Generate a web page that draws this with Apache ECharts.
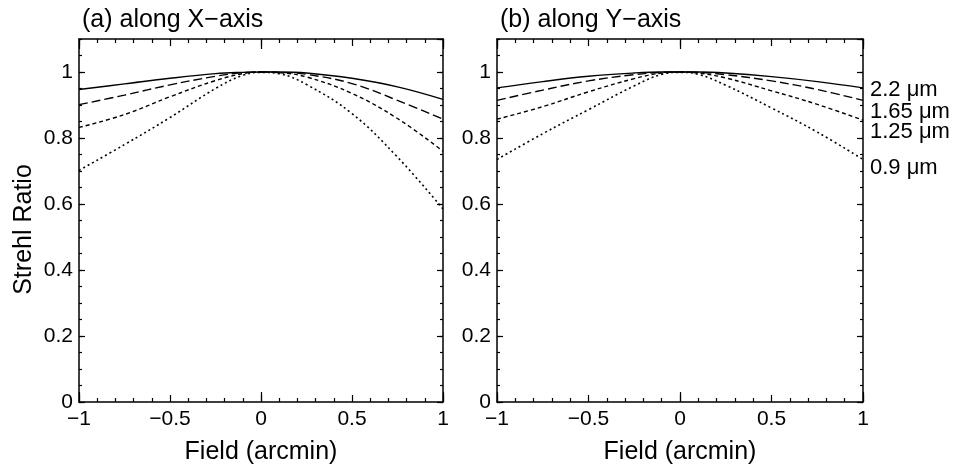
<!DOCTYPE html>
<html>
<head>
<meta charset="utf-8">
<script src="https://cdn.jsdelivr.net/npm/echarts@6/dist/echarts.min.js"></script>
<style>
  html, body, #main { width: 956px; height: 472px; margin: 0; background: #fff; }
</style>
</head>
<body>
<div id="main"></div>
<script>
// field positions (arcmin)
var fieldX = [-1, -0.75, -0.5, -0.25, -0.1, 0, 0.1, 0.25, 0.5, 0.75, 1];
var waveNames = ['2.2 μm', '1.65 μm', '1.25 μm', '0.9 μm'];

// (a) along X-axis
var a22  = [0.947, 0.964, 0.981, 0.995, 0.999, 1.000, 1.000, 0.997, 0.981, 0.955, 0.917];
var a165 = [0.901, 0.930, 0.961, 0.987, 0.998, 1.000, 0.999, 0.993, 0.965, 0.914, 0.857];
var a125 = [0.832, 0.871, 0.925, 0.974, 0.995, 1.000, 0.998, 0.985, 0.935, 0.859, 0.760];
var a09  = [0.702, 0.780, 0.862, 0.950, 0.990, 0.999, 0.995, 0.962, 0.874, 0.742, 0.585];

// (b) along Y-axis
var b22  = [0.952, 0.971, 0.987, 0.997, 1.000, 1.000, 1.000, 0.997, 0.986, 0.971, 0.952];
var b165 = [0.914, 0.945, 0.973, 0.992, 0.999, 1.000, 0.999, 0.992, 0.973, 0.947, 0.914];
var b125 = [0.857, 0.895, 0.940, 0.980, 0.997, 1.000, 0.997, 0.982, 0.943, 0.902, 0.854];
var b09  = [0.735, 0.813, 0.886, 0.958, 0.993, 0.999, 0.993, 0.960, 0.891, 0.818, 0.735];

var font = 'Liberation Sans';
var lineW = 1.5;
var dashes = ['solid', [9, 4], [4, 3], [2, 3]];
var widths = [1.4, 1.4, 1.4, 1.6];
var labelDy = [2, 12, 12, 8];

function fmtX(v) {
    return v < 0 ? '\u2212' + Math.abs(v) : String(v);
}

var xAxes = [], yAxes = [], series = [];

function addPanel(g, sets, withLabels) {
    var axLine = { show: true, onZero: false, lineStyle: { color: '#000', width: lineW } };
    var noLine = { show: false, onZero: false };
    var tickStyle = { color: '#000', width: 1.2 };
    ['bottom', 'top'].forEach(function (pos) {
        xAxes.push({
            gridIndex: g, type: 'value', min: -1, max: 1, interval: 0.5, position: pos,
            axisLine: axLine,
            axisTick: { inside: true, length: 7, lineStyle: tickStyle },
            minorTick: { show: true, splitNumber: 5, length: 4, lineStyle: tickStyle },
            splitLine: { show: false },
            axisLabel: {
                show: pos === 'bottom', formatter: fmtX, fontSize: 21, fontFamily: font,
                color: '#000', margin: 7
            },
            name: pos === 'bottom' ? 'Field (arcmin)' : '',
            nameLocation: 'middle', nameGap: 38,
            nameTextStyle: { fontSize: 25, fontFamily: font, color: '#000' }
        });
    });
    // longer tick at zero
    ['bottom', 'top'].forEach(function (pos) {
        xAxes.push({
            gridIndex: g, type: 'value', min: -1, max: 1, interval: 1, position: pos,
            axisLine: noLine,
            axisTick: { inside: true, length: 10, lineStyle: tickStyle },
            splitLine: { show: false }, axisLabel: { show: false }
        });
    });
    ['left', 'right'].forEach(function (pos) {
        yAxes.push({
            gridIndex: g, type: 'value', min: 0, max: 1.1, interval: 0.2, position: pos,
            axisLine: axLine,
            axisTick: { inside: true, length: 6, lineStyle: tickStyle },
            splitLine: { show: false },
            axisLabel: {
                show: pos === 'left', showMaxLabel: false, fontSize: 21, fontFamily: font,
                color: '#000', margin: 6
            },
            name: (pos === 'left' && g === 0) ? 'Strehl Ratio' : '',
            nameLocation: 'middle', nameGap: 42,
            nameTextStyle: { fontSize: 25, fontFamily: font, color: '#000', padding: [0, 18, 0, 0] }
        });
        yAxes.push({
            gridIndex: g, type: 'value', min: 0, max: 1.1, interval: 0.05, position: pos,
            axisLine: noLine,
            axisTick: { inside: true, length: 3, lineStyle: tickStyle },
            splitLine: { show: false }, axisLabel: { show: false }
        });
    });
    sets.forEach(function (arr, k) {
        series.push({
            type: 'line', name: waveNames[k], xAxisIndex: g * 4, yAxisIndex: g * 4,
            data: fieldX.map(function (x, i) { return [x, arr[i]]; }),
            smooth: 0.4, symbol: 'none', silent: true,
            lineStyle: { color: '#000', width: widths[k], type: dashes[k] },
            endLabel: {
                show: withLabels, formatter: waveNames[k], fontSize: 22, fontFamily: font,
                color: '#000', distance: 7, offset: [0, labelDy[k]]
            }
        });
    });
}

addPanel(0, [a22, a165, a125, a09], false);
addPanel(1, [b22, b165, b125, b09], true);

var chart = echarts.init(document.getElementById('main'), null, { renderer: 'canvas' });
chart.setOption({
    animation: false,
    backgroundColor: '#fff',
    title: [
        { text: '(a) along X\u2212axis', left: 77, top: 3,
          textStyle: { fontSize: 25, fontWeight: 'normal', fontFamily: font, color: '#000' } },
        { text: '(b) along Y\u2212axis', left: 495, top: 3,
          textStyle: { fontSize: 25, fontWeight: 'normal', fontFamily: font, color: '#000' } }
    ],
    grid: [
        { left: 79, right: 513, top: 39, bottom: 70 },
        { left: 497, right: 93, top: 39, bottom: 70 }
    ],
    xAxis: xAxes,
    yAxis: yAxes,
    series: series
});
</script>
</body>
</html>
